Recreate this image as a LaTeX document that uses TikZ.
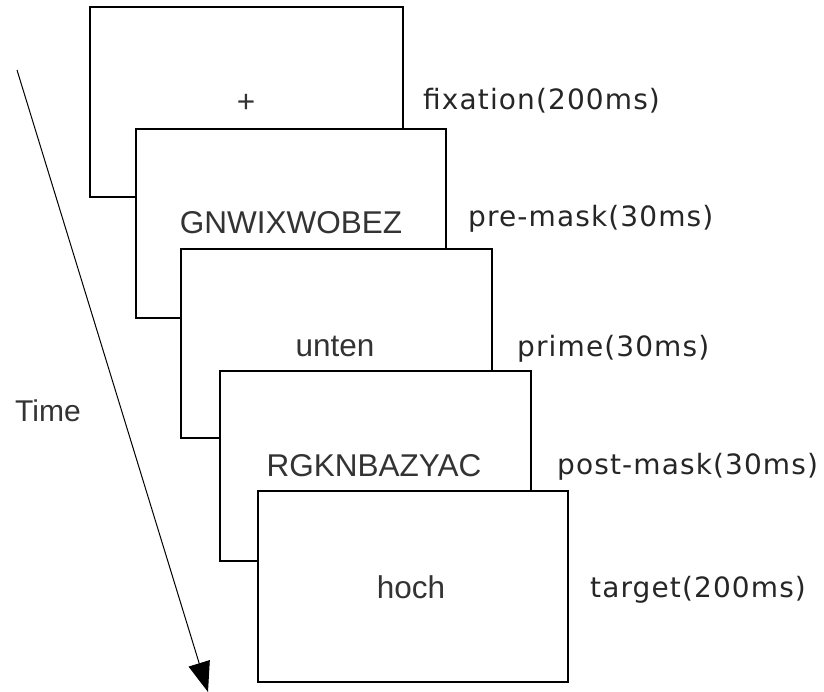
\documentclass[tikz,border=0pt]{standalone}
\usepackage{fontspec}
\setmainfont{DejaVu Sans}
\newfontfamily\stimfont{Liberation Sans}
\newfontfamily\phasefont[LetterSpace=4]{DejaVu Sans}
\usetikzlibrary{arrows.meta}
\begin{document}
\begin{tikzpicture}[x=1pt,y=-1pt,
  frame/.style={draw=black,fill=white,line width=1.5pt},
  stim/.style={font=\stimfont\fontsize{31.5}{36}\selectfont,text=black!80,inner sep=0pt},
  phase/.style={font=\phasefont\fontsize{28}{34}\selectfont,text=black!85,inner sep=0pt,anchor=base west},
  timeaxis/.style={line width=1pt,-{Triangle[length=30pt,width=22pt]}}]
\useasboundingbox (0,0) rectangle (824,692);

% stacked screens, each drawn over the previous one
\draw[frame] (90,7) rectangle (403,197);
\node[stim] (s1) at (246,103) {+};
\draw[frame] (136,129) rectangle (446,318);
\node[stim,anchor=base] (s2) at (291,234) {GNWIXWOBEZ};
\draw[frame] (181,249) rectangle (492,438);
\node[stim,anchor=base] (s3) at (335,356) {unten};
\draw[frame] (220,371) rectangle (531,561);
\node[stim,anchor=base] (s4) at (374,476) {RGKNBAZYAC};
\draw[frame] (258,491) rectangle (568,682);
\node[stim,anchor=base] (s5) at (411,598) {hoch};

% phase durations
\node[phase] (l1) at (423,110) {fixation(200ms)};
\node[phase] (l2) at (468,227) {pre-mask(30ms)};
\node[phase] (l3) at (517,356) {prime(30ms)};
\node[phase] (l4) at (557,474) {post-mask(30ms)};
\node[phase] (l5) at (590,597) {target(200ms)};

% time axis
\coordinate (t0) at (17,70);
\coordinate (t1) at (208,692);
\draw[timeaxis] (t0) -- (t1);
\node[stim,anchor=base west,font=\stimfont\fontsize{30}{36}\selectfont] (time) at (15,421) {Time};
\end{tikzpicture}
\end{document}
